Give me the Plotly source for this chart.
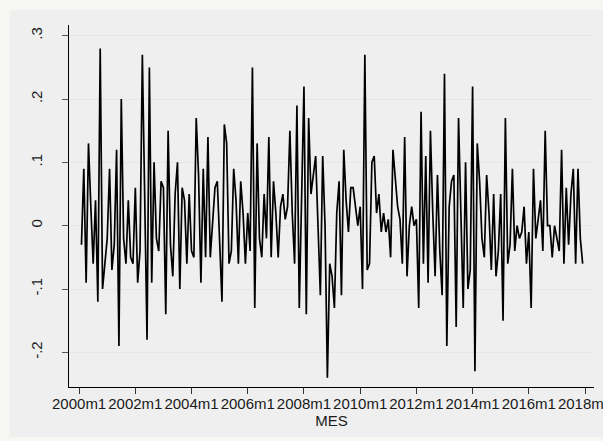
import plotly.graph_objects as go

# Monthly series, 2000m2 .. 2017m12
start_year = 2000
start_month = 2
values = [
    -0.03, 0.09, -0.09, 0.13, 0.03, -0.06, 0.04, -0.12, 0.28, -0.10,
    -0.06, -0.02, 0.09, -0.07, -0.03, 0.12, -0.19, 0.20, -0.02, -0.06,
    0.04, -0.05, -0.06, 0.06, -0.09, -0.04, 0.27, 0.02, -0.18, 0.25,
    -0.09, 0.10, -0.02, -0.04, 0.07, 0.06, -0.14, 0.15, -0.03, -0.08,
    0.05, 0.10, -0.10, 0.06, 0.04, -0.06, 0.05, -0.04, -0.05, 0.17,
    0.08, -0.09, 0.09, -0.05, 0.14, -0.05, 0.00, 0.06, 0.07, -0.03,
    -0.12, 0.16, 0.13, -0.06, -0.04, 0.09, 0.04, -0.06, 0.07, 0.02,
    -0.06, 0.02, -0.04, 0.25, -0.13, 0.13, -0.02, -0.05, 0.05, -0.02,
    0.14, -0.05, 0.07, 0.02, -0.05, 0.03, 0.05, 0.01, 0.03, 0.15,
    0.02, -0.06, 0.19, -0.13, 0.05, 0.22, -0.14, 0.17, 0.05, 0.08,
    0.11, 0.00, -0.11, 0.11, 0.00, -0.24, -0.06, -0.08, -0.13, 0.02,
    0.07, -0.11, 0.12, 0.04, -0.01, 0.06, 0.06, 0.03, 0.00, 0.03,
    -0.10, 0.27, -0.07, -0.06, 0.10, 0.11, 0.02, 0.05, -0.01, 0.02,
    -0.01, 0.01, -0.05, 0.12, 0.08, 0.03, 0.01, -0.06, 0.14, -0.08,
    0.00, 0.03, 0.00, 0.01, -0.13, 0.18, -0.06, 0.11, -0.09, 0.15,
    0.02, -0.08, 0.08, -0.04, -0.11, 0.24, -0.19, 0.03, 0.07, 0.08,
    -0.16, 0.17, 0.02, -0.13, 0.10, -0.10, -0.07, 0.22, -0.23, 0.13,
    0.07, -0.02, -0.05, 0.08, 0.02, -0.07, 0.05, -0.08, -0.04, 0.05,
    -0.15, 0.17, -0.06, -0.03, 0.09, -0.04, 0.00, -0.02, -0.01, 0.03,
    -0.06, -0.01, -0.13, 0.09, -0.02, 0.01, 0.04, -0.04, 0.15, 0.00,
    0.00, -0.05, 0.00, -0.02, -0.04, 0.12, -0.06, 0.06, -0.03, 0.05,
    0.09, -0.06, 0.09, -0.02, -0.06,
]

tick_years = [2000, 2002, 2004, 2006, 2008, 2010, 2012, 2014, 2016, 2018]
tick_labels = [f"{y}m1" for y in tick_years]
y_ticks = [-0.2, -0.1, 0.0, 0.1, 0.2, 0.3]
y_labels = ["-.2", "-.1", "0", ".1", ".2", ".3"]

# Stata-style monthly time: year + (month-1)/12
mes = [start_year + (start_month - 1 + i) / 12 for i in range(len(values))]

FONT = "Liberation Sans, Arial, sans-serif"
TXT = "#1a1a1a"

fig = go.Figure()
fig.add_trace(go.Scatter(
    x=mes, y=values, mode="lines",
    line=dict(color="black", width=1.7),
    hoverinfo="skip", showlegend=False,
))

fig.update_layout(
    width=603, height=441,
    margin=dict(l=69, r=9, t=25, b=54, pad=0),
    paper_bgcolor="#f6f6f3",
    plot_bgcolor="white",
    font=dict(family=FONT, size=15, color=TXT),
    showlegend=False,
    # grey graph region framing the plot area
    shapes=[dict(
        type="rect", xref="paper", yref="paper", layer="below",
        x0=-0.1124, x1=1.02, y0=-0.1381, y1=1.0414,
        fillcolor="#efefef", line=dict(width=0),
    )],
)

fig.update_xaxes(
    range=[1999.64, 2018.32],
    tickmode="array", tickvals=tick_years, ticktext=tick_labels,
    tickangle=0,
    ticks="outside", ticklen=6, tickwidth=1, tickcolor="#333333",
    showline=True, linecolor="black", linewidth=1,
    showgrid=False, zeroline=False,
    tickfont=dict(family=FONT, size=15, color=TXT),
    ticklabeloverflow="allow",
    ticklabelstandoff=-3,
    title=dict(text="MES", font=dict(family=FONT, size=15, color=TXT), standoff=0),
    automargin=False,
)

fig.update_yaxes(
    range=[-0.2548, 0.317],
    tickmode="array", tickvals=y_ticks, ticktext=y_labels,
    tickangle=-90,
    ticks="outside", ticklen=6, tickwidth=1, tickcolor="#555555",
    showline=True, linecolor="black", linewidth=1,
    showgrid=True, gridcolor="#e6e6e6", gridwidth=1.2,
    zeroline=False,
    tickfont=dict(family=FONT, size=15, color=TXT),
    ticklabelstandoff=14,
    automargin=False,
)

fig.write_html("out.html")
